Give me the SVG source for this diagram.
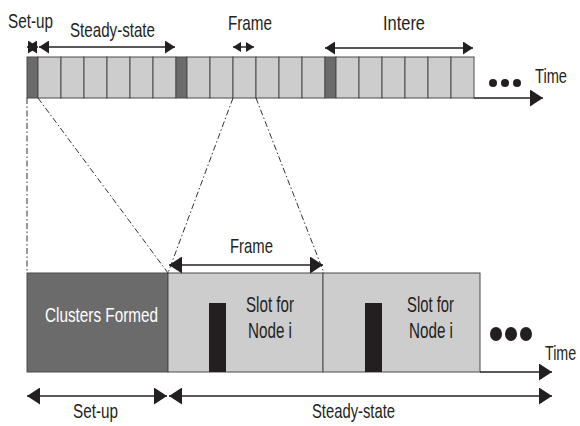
<svg xmlns="http://www.w3.org/2000/svg" width="580" height="426" viewBox="0 0 580 426">
<style>
text{font-family:"Liberation Sans",Arial,sans-serif;font-size:21px;fill:#231f20}
.lt{fill:#cdcdcd;stroke:#4a4a4a;stroke-width:1}
.dk{fill:#6b6b6b;stroke:#4a4a4a;stroke-width:1}
.ar{stroke:#231f20;stroke-width:1.4;fill:none}
.dd{stroke:#333;stroke-width:1;fill:none;stroke-dasharray:6 2.5 1.5 2.5}
.bar{fill:#231f20}
</style>
<defs>
<marker id="am" viewBox="0 0 10 13" refX="10" refY="6.5" markerWidth="10" markerHeight="13" orient="auto-start-reverse" markerUnits="userSpaceOnUse"><path d="M0,0 L10,6.5 L0,13 z" fill="#231f20"/></marker>
<marker id="as" viewBox="0 0 8 10" refX="8" refY="5" markerWidth="8" markerHeight="10" orient="auto-start-reverse" markerUnits="userSpaceOnUse"><path d="M0,0 L8,5 L0,10 z" fill="#231f20"/></marker>
<marker id="al" viewBox="0 0 13 17" refX="13" refY="8.5" markerWidth="13" markerHeight="17" orient="auto-start-reverse" markerUnits="userSpaceOnUse"><path d="M0,0 L13,8.5 L0,17 z" fill="#231f20"/></marker>
</defs>

<g id="top-timeline">
<rect class="dk" x="27" y="57" width="11" height="41"/>
<rect class="lt" x="38" y="57" width="23" height="41"/>
<rect class="lt" x="61" y="57" width="23" height="41"/>
<rect class="lt" x="84" y="57" width="23" height="41"/>
<rect class="lt" x="107" y="57" width="23" height="41"/>
<rect class="lt" x="130" y="57" width="23" height="41"/>
<rect class="lt" x="153" y="57" width="23" height="41"/>
<rect class="dk" x="176" y="57" width="11" height="41"/>
<rect class="lt" x="187" y="57" width="23" height="41"/>
<rect class="lt" x="210" y="57" width="23" height="41"/>
<rect class="lt" x="233" y="57" width="23" height="41"/>
<rect class="lt" x="256" y="57" width="23" height="41"/>
<rect class="lt" x="279" y="57" width="23" height="41"/>
<rect class="lt" x="302" y="57" width="23" height="41"/>
<rect class="dk" x="325" y="57" width="11" height="41"/>
<rect class="lt" x="336" y="57" width="23" height="41"/>
<rect class="lt" x="359" y="57" width="23" height="41"/>
<rect class="lt" x="382" y="57" width="23" height="41"/>
<rect class="lt" x="405" y="57" width="23" height="41"/>
<rect class="lt" x="428" y="57" width="23" height="41"/>
<rect class="lt" x="451" y="57" width="23" height="41"/>
</g>

<g id="top-labels">
<text x="8" y="28" textLength="45" lengthAdjust="spacingAndGlyphs">Set-up</text>
<text x="70" y="37" textLength="85" lengthAdjust="spacingAndGlyphs">Steady-state</text>
<text x="228" y="30" textLength="44" lengthAdjust="spacingAndGlyphs">Frame</text>
<text x="383" y="30" textLength="42" lengthAdjust="spacingAndGlyphs">Intere</text>
<text x="535" y="83" textLength="32" lengthAdjust="spacingAndGlyphs">Time</text>
<circle cx="493" cy="83" r="4" fill="#231f20"/>
<circle cx="505" cy="83" r="4" fill="#231f20"/>
<circle cx="517" cy="83" r="4" fill="#231f20"/>
</g>

<g id="node-clusters-formed">
<rect class="dk" x="27" y="273" width="141" height="99"/>
<text x="45" y="322" textLength="113" lengthAdjust="spacingAndGlyphs" style="fill:#fff">Clusters Formed</text>
</g>

<g id="node-slot-1">
<rect class="lt" x="168" y="273" width="155" height="99"/>
<rect class="bar" x="209" y="303" width="17" height="69"/>
<text x="246" y="312" textLength="48" lengthAdjust="spacingAndGlyphs" style="font-size:22px">Slot for</text>
<text x="248" y="338" textLength="44" lengthAdjust="spacingAndGlyphs" style="font-size:22px">Node i</text>
</g>

<g id="node-slot-2">
<rect class="lt" x="323" y="273" width="157" height="99"/>
<rect class="bar" x="365" y="303" width="17" height="69"/>
<text x="407" y="312" textLength="47" lengthAdjust="spacingAndGlyphs" style="font-size:22px">Slot for</text>
<text x="409" y="338" textLength="44" lengthAdjust="spacingAndGlyphs" style="font-size:22px">Node i</text>
</g>

<g id="bottom-labels">
<ellipse cx="496" cy="334" rx="6" ry="7" fill="#231f20"/>
<ellipse cx="511" cy="334" rx="6" ry="7" fill="#231f20"/>
<ellipse cx="526" cy="334" rx="6" ry="7" fill="#231f20"/>
<text transform="translate(545,360) scale(0.68,1)">Time</text>
<text x="230" y="253" textLength="43" lengthAdjust="spacingAndGlyphs">Frame</text>
<text x="73" y="418" textLength="45" lengthAdjust="spacingAndGlyphs">Set-up</text>
<text x="312" y="418" textLength="83" lengthAdjust="spacingAndGlyphs">Steady-state</text>
</g>

<g id="connectors">
<line class="dd" x1="27" y1="98" x2="27" y2="273"/>
<line class="dd" x1="38" y1="98" x2="168" y2="273"/>
<line class="dd" x1="233" y1="98" x2="168" y2="273"/>
<line class="dd" x1="256" y1="98" x2="324" y2="273"/>
<line class="ar" x1="27" y1="47" x2="38" y2="47" marker-start="url(#am)" marker-end="url(#am)"/>
<line class="ar" x1="39" y1="47" x2="175" y2="47" marker-start="url(#am)" marker-end="url(#am)"/>
<line class="ar" x1="233" y1="47" x2="254" y2="47" marker-start="url(#as)" marker-end="url(#as)"/>
<line class="ar" x1="325" y1="48" x2="473" y2="48" marker-start="url(#am)" marker-end="url(#am)"/>
<line class="ar" x1="474" y1="98" x2="543" y2="98" marker-end="url(#al)"/>
<line class="ar" x1="480" y1="372" x2="552" y2="372" marker-end="url(#al)"/>
<line class="ar" x1="169" y1="265" x2="323" y2="265" marker-start="url(#al)" marker-end="url(#al)"/>
<line class="ar" x1="27" y1="396" x2="167" y2="396" marker-start="url(#al)" marker-end="url(#al)"/>
<line class="ar" x1="169" y1="396" x2="552" y2="396" marker-start="url(#al)" marker-end="url(#al)"/>
</g>
</svg>
